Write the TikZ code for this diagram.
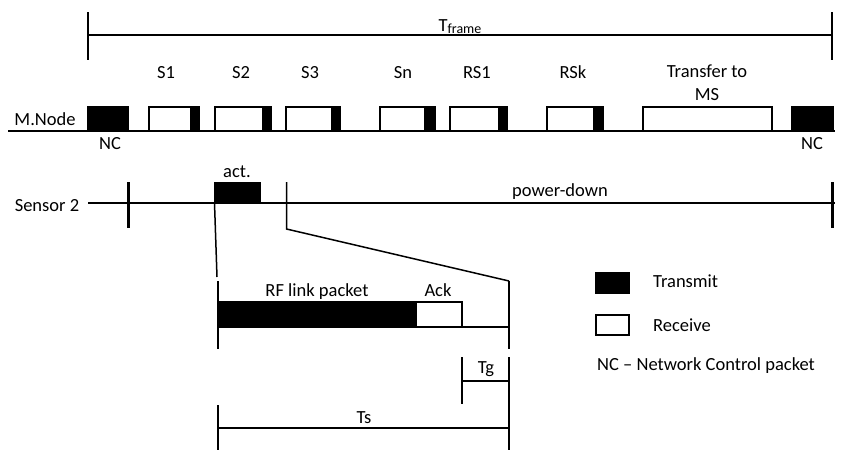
\documentclass[tikz,border=0pt]{standalone}
\usepackage{fontspec}
\setmainfont{Carlito}
\begin{document}
\begin{tikzpicture}[x=1pt,y=-1pt,
  ln/.style={line width=1.5pt},
  thk/.style={line width=3pt},
  lbl/.style={font=\fontsize{18.5}{20}\selectfont, inner sep=0pt, anchor=base},
  lbll/.style={lbl, anchor=base west},
  tx/.style={ln, fill=black},
  rx/.style={ln, fill=white}]
\useasboundingbox (0,0) rectangle (841,450);
\newcommand\myslot[3]{\draw[rx] (#1,107) rectangle (#3,131); \fill (#2,107) rectangle (#3,131);}
% T_frame
\draw[ln] (88,12) -- (88,60);
\draw[ln] (832,12) -- (832,60);
\draw[ln] (88,35) -- (832,35);
\node[lbl] (tframe) at (460,31) {T\raisebox{-2.5pt}{\fontsize{14}{16}\selectfont frame}};
% M.Node
\node[lbl] (mnode) at (45,125) {M.Node};
\draw[ln] (8,131) -- (835,131);
\draw[tx] (88,107) rectangle (128,131);
\draw[tx] (792,107) rectangle (833,131);
\myslot{149}{190}{199}
\myslot{215}{262}{271}
\myslot{286}{331}{340}
\myslot{380}{424}{435}
\myslot{450}{498}{507}
\myslot{547}{593}{603}
\draw[rx] (643,107) rectangle (772,131);
\node[lbl] (s1) at (166,78) {S1};
\node[lbl] (s2) at (241,78) {S2};
\node[lbl] (s3) at (310,78) {S3};
\node[lbl] (sn) at (403,78) {Sn};
\node[lbl] (rs1) at (477,78) {RS1};
\node[lbl] (rsk) at (573,78) {RSk};
\node[lbl] (tr1) at (707,77) {Transfer to};
\node[lbl] (tr2) at (707,100) {MS};
\node[lbl] (nc1) at (110,149) {NC};
\node[lbl] (nc2) at (812,149) {NC};
% Sensor 2
\node[lbl] (sens) at (47,211) {Sensor 2};
\draw[ln] (88,203) -- (835,203);
\draw[thk] (128,182) -- (128,228);
\draw[thk] (832,182) -- (832,228);
\fill (214,182) rectangle (261,203);
\node[lbl] (act) at (237,177) {act.};
\draw[ln] (286.5,182) -- (286.5,229) -- (509,281);
\draw[ln] (214.5,203) -- (217,277);
\node[lbl] (pd) at (560,196) {power-down};
% zoom
\draw[ln] (218,281) -- (218,349);
\draw[ln] (509,281) -- (509,349);
\draw[tx] (218,302) rectangle (416,327);
\draw[rx] (416,302) rectangle (462,327);
\draw[ln] (462,327) -- (509,327);
\node[lbl] (rf) at (317,296) {RF link packet};
\node[lbl] (ack) at (438,296) {Ack};
% Tg
\draw[ln] (462,357) -- (462,404);
\draw[ln] (509,357) -- (509,450);
\draw[ln] (462,381) -- (509,381);
\node[lbl] (tg) at (486,373) {Tg};
% Ts
\draw[ln] (218,405) -- (218,450);
\draw[ln] (218,428) -- (509,428);
\node[lbl] (ts) at (364,423) {Ts};
% legend
\draw[tx] (596,273) rectangle (629,293);
\draw[rx] (596,315) rectangle (629,335);
\node[lbll] (lt) at (653,287) {Transmit};
\node[lbll] (lr) at (653,331) {Receive};
\node[lbll] (lnc) at (597,370) {NC – Network Control packet};
\end{tikzpicture}
\end{document}
